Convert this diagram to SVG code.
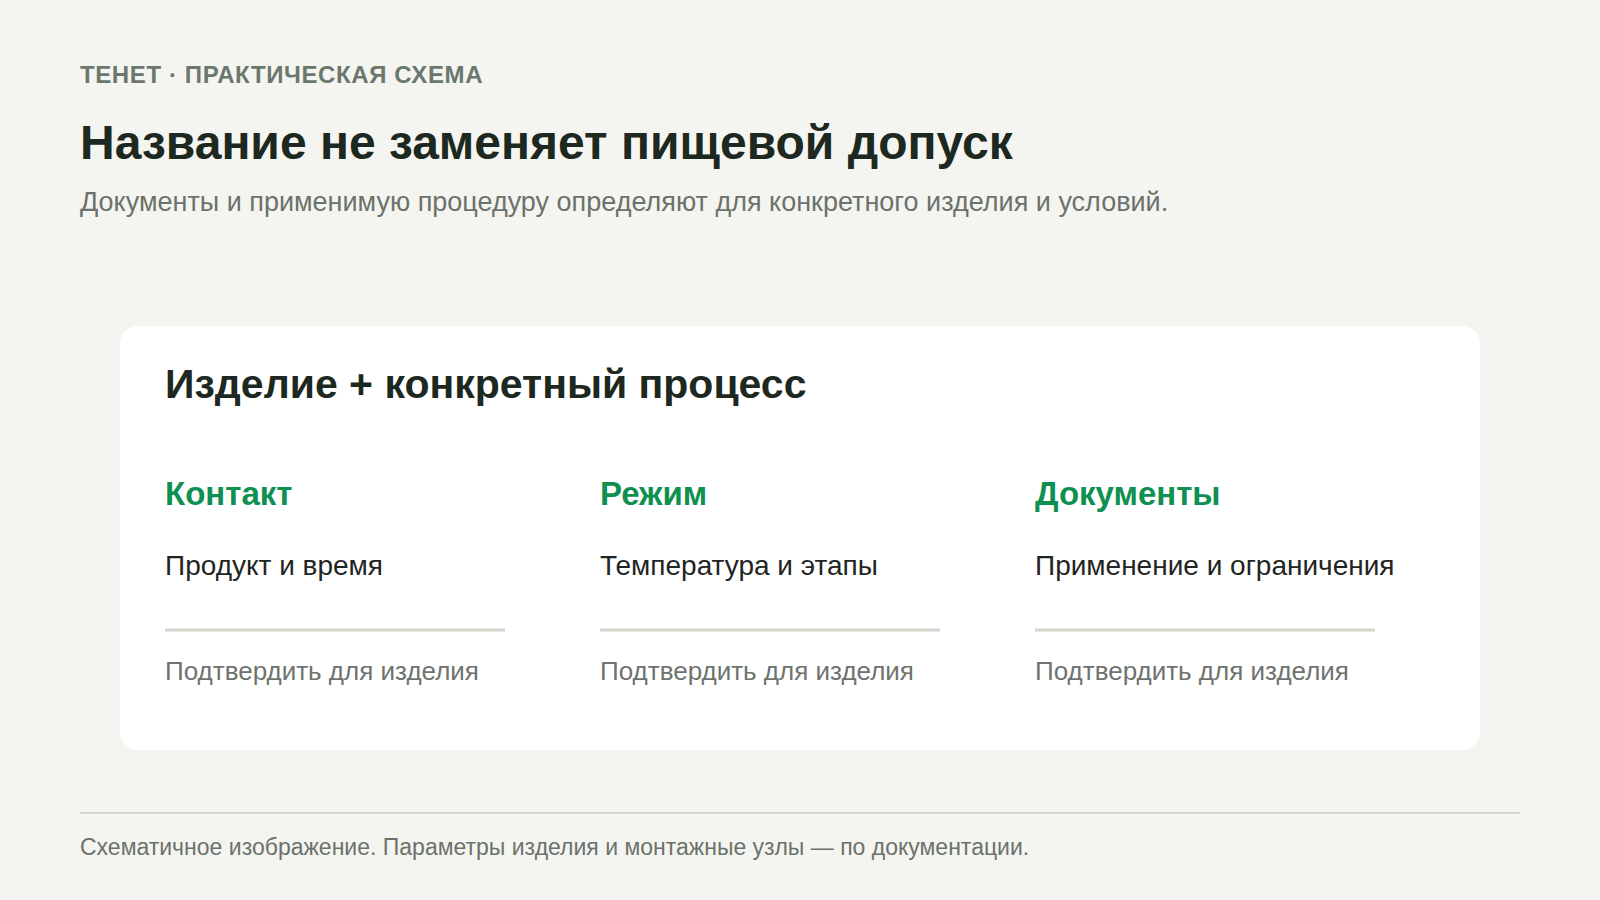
<svg xmlns="http://www.w3.org/2000/svg" width="1600" height="900" viewBox="0 0 1600 900">
<style>
text{font-family:"Liberation Sans",Arial,sans-serif}
.eyebrow{font-size:24px;font-weight:700;fill:#6b776d;letter-spacing:0.6px}
.title{font-size:48px;font-weight:700;fill:#1d2820}
.sub{font-size:27px;fill:#6b726b}
.cardtitle{font-size:41px;font-weight:700;fill:#1d2820}
.head{font-size:33px;font-weight:700;fill:#0e9150}
.body{font-size:28px;fill:#1f2522}
.note{font-size:26px;fill:#6e736e}
.div{stroke:#d3d6cc;stroke-width:3}
.foot{font-size:23px;fill:#6b726b}
</style>
<rect width="1600" height="900" fill="#f4f5f0"/>
<g id="header">
<text class="eyebrow" x="80" y="83">ТЕНЕТ · ПРАКТИЧЕСКАЯ СХЕМА</text>
<text class="title" x="80" y="159">Название не заменяет пищевой допуск</text>
<text class="sub" x="80" y="211">Документы и применимую процедуру определяют для конкретного изделия и условий.</text>
</g>
<g id="card">
<rect x="120" y="326" width="1360" height="424" rx="18" fill="#ffffff"/>
<text class="cardtitle" x="165" y="398">Изделие + конкретный процесс</text>
</g>
<g id="col-contact">
<text class="head" x="165" y="505">Контакт</text>
<text class="body" x="165" y="575">Продукт и время</text>
<line class="div" x1="165" y1="630" x2="505" y2="630"/>
<text class="note" x="165" y="680">Подтвердить для изделия</text>
</g>
<g id="col-mode">
<text class="head" x="600" y="505">Режим</text>
<text class="body" x="600" y="575">Температура и этапы</text>
<line class="div" x1="600" y1="630" x2="940" y2="630"/>
<text class="note" x="600" y="680">Подтвердить для изделия</text>
</g>
<g id="col-docs">
<text class="head" x="1035" y="505">Документы</text>
<text class="body" x="1035" y="575">Применение и ограничения</text>
<line class="div" x1="1035" y1="630" x2="1375" y2="630"/>
<text class="note" x="1035" y="680">Подтвердить для изделия</text>
</g>
<g id="footer">
<line x1="80" y1="813" x2="1520" y2="813" stroke="#d3d6cf" stroke-width="2"/>
<text class="foot" x="80" y="855">Схематичное изображение. Параметры изделия и монтажные узлы — по документации.</text>
</g>
</svg>
